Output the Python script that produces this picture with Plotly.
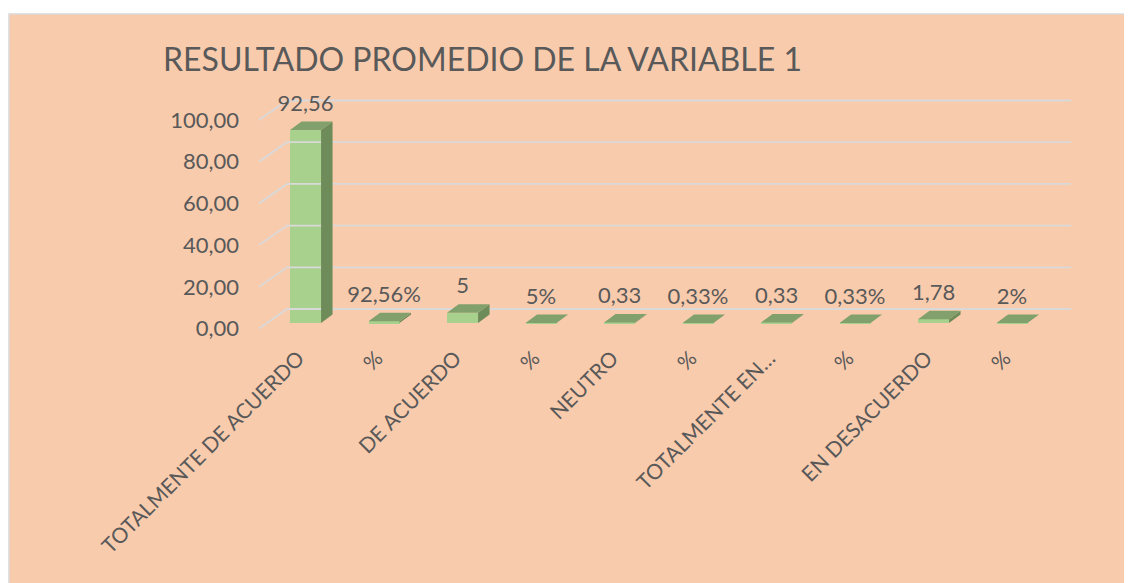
import plotly.graph_objects as go

# ---- data ----
categories = ["TOTALMENTE DE ACUERDO", "%", "DE ACUERDO", "%", "NEUTRO", "%",
              "TOTALMENTE EN…", "%", "EN DESACUERDO", "%"]
values = [92.56, 0.9256, 5, 0.05, 0.33, 0.0033, 0.33, 0.0033, 1.78, 0.02]
value_labels = ["92,56", "92,56%", "5", "5%", "0,33", "0,33%", "0,33", "0,33%", "1,78", "2%"]
y_ticks = [0, 20, 40, 60, 80, 100]
y_tick_labels = ["0,00", "20,00", "40,00", "60,00", "80,00", "100,00"]
title = "RESULTADO PROMEDIO DE LA VARIABLE 1"

# ---- layout geometry (px, in target-image coordinates) ----
W, H = 1132, 583
OX, OY = 7, 7     # page offset of the figure inside the browser window
L, R, T, B = 258 - OX, 1070 - OX, 60 - OY, 340 - OY
PX_Y = 2.085      # px per y unit
PX_X = 78.5       # px per category
ZERO_PX = 327.5 - OY
y0 = -(B - ZERO_PX) / PX_Y
y1 = (ZERO_PX - T) / PX_Y
x0r, x1r = -0.5, -0.5 + (R - L) / PX_X

# 3D pseudo-depth in data units
BAR_OFF, BAR_W, BASE = 0.093, 0.395, 2.6
DX, DY = 11.5 / PX_X, 8.5 / PX_Y
GX, GY = 28 / PX_X, 19.5 / PX_Y

TXT = "#595959"
FONT = "Lato"

fig = go.Figure()

# back-wall gridlines with diagonal connectors
gx, gy = [], []
for v in y_ticks:
    gx += [-0.5, -0.5 + GX, 9.5 + GX, None]
    gy += [v, v + GY, v + GY, None]
fig.add_trace(go.Scatter(x=gx, y=gy, mode="lines", line=dict(color="#D9D9D9", width=1.8),
                         hoverinfo="skip", showlegend=False))

n = len(values)
xs = [i + BAR_OFF for i in range(n)]

# front faces
fig.add_trace(go.Bar(x=xs, y=values, base=BASE, width=BAR_W,
                     marker=dict(color="#A9D18E", line=dict(width=0)),
                     showlegend=False, hoverinfo="skip"))

# side faces and top faces
sx, sy, tx, ty = [], [], [], []
for x, v in zip(xs, values):
    a, b = x - BAR_W / 2, x + BAR_W / 2
    top = BASE + v
    sx += [b, b, b + DX, b + DX, b, None]
    sy += [BASE, top, top + DY, BASE + DY, BASE, None]
    tx += [a, b, b + DX, a + DX, a, None]
    ty += [top, top, top + DY, top + DY, top, None]
fig.add_trace(go.Scatter(x=sx, y=sy, mode="lines", fill="toself", fillcolor="#6E8B5A",
                         line=dict(width=0, color="#6E8B5A"), hoverinfo="skip", showlegend=False))
fig.add_trace(go.Scatter(x=tx, y=ty, mode="lines", fill="toself", fillcolor="#81A06B",
                         line=dict(width=0, color="#81A06B"), hoverinfo="skip", showlegend=False))

# value labels
fig.add_trace(go.Scatter(x=xs, y=[BASE + v + DY + 2.5 for v in values],
                         mode="text", text=value_labels, textposition="top center",
                         textfont=dict(family=FONT, size=22, color=TXT),
                         hoverinfo="skip", showlegend=False))

# background panel
pw, ph = R - L, B - T
fig.add_shape(type="rect", xref="paper", yref="paper",
              x0=(8 - OX - L) / pw, x1=(W + 5 - L) / pw,
              y0=(B - (H + 5)) / ph, y1=(B - (13 - OY)) / ph,
              fillcolor="#F8CBAD", line=dict(color="#D9D9D9", width=1.5), layer="below")

fig.update_layout(
    width=W, height=H,
    margin=dict(l=L, r=W - R, t=T, b=H - B, pad=0),
    paper_bgcolor="white", plot_bgcolor="rgba(0,0,0,0)",
    font=dict(family=FONT, color=TXT),
    bargap=0,
    title=dict(text=title, xref="container", yref="container",
               x=(162 - OX) / W, xanchor="left", y=1 - (59 - OY) / H, yanchor="middle",
               font=dict(family=FONT, size=32, color=TXT)),
    xaxis=dict(range=[x0r, x1r], tickvals=list(range(n)), ticktext=categories,
               tickangle=-45, showgrid=False, zeroline=False, showline=False,
               ticks="", tickfont=dict(family=FONT, size=21, color=TXT), fixedrange=True),
    yaxis=dict(range=[y0, y1], tickvals=y_ticks, ticktext=y_tick_labels,
               showgrid=False, zeroline=False, showline=False, ticks="",
               ticklabelstandoff=19,
               tickfont=dict(family=FONT, size=22, color=TXT), fixedrange=True),
)

fig.write_html("out.html")
